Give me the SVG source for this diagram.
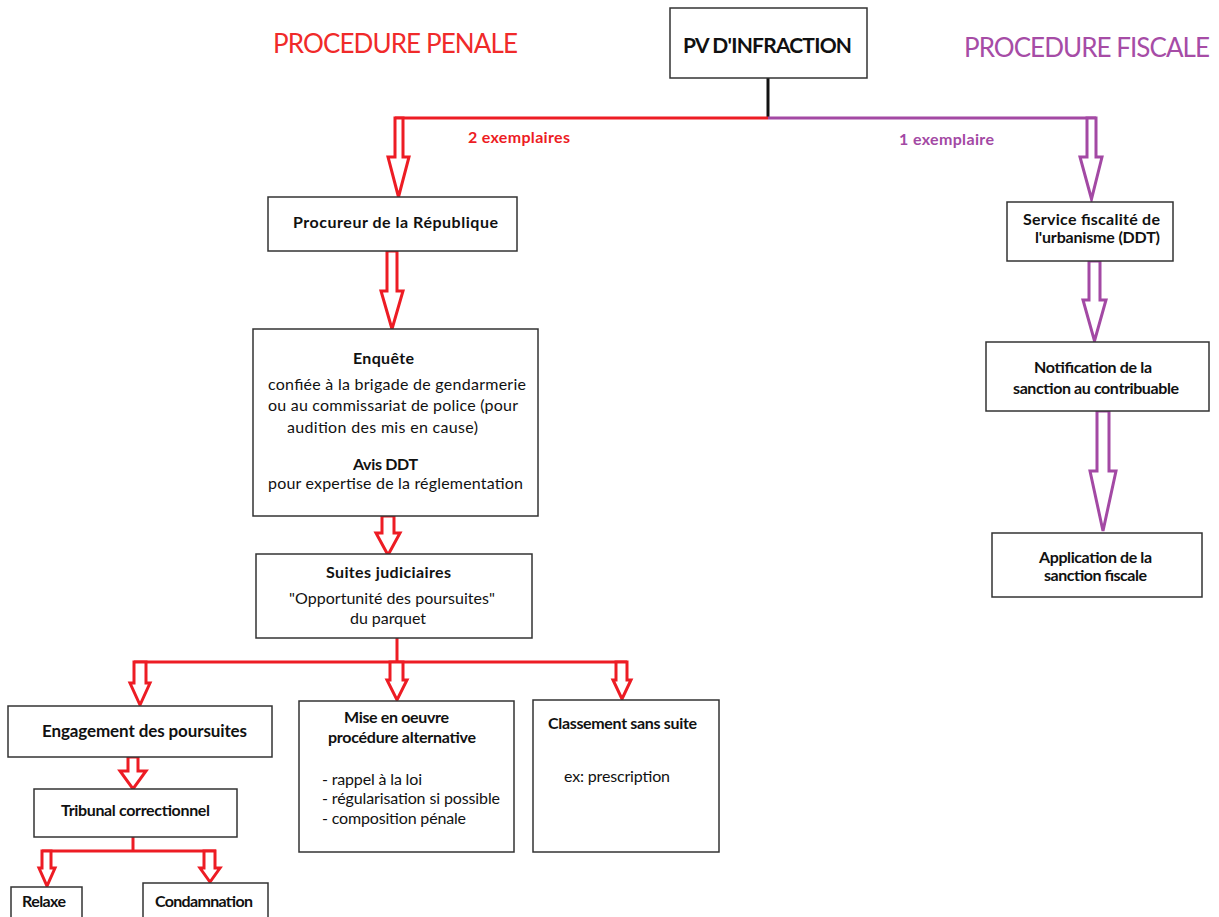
<svg xmlns="http://www.w3.org/2000/svg" width="1219" height="917" viewBox="0 0 1219 917">
<style>
  .box { fill: #ffffff; stroke: #333333; stroke-width: 1.5; }
  .t { font-family: Lato, "Open Sans", sans-serif; fill: #111111; font-size: 16px; }
  .b { font-weight: bold; }
  .red { stroke: #ed1c24; stroke-width: 3; fill: none; }
  .pur { stroke: #a349a4; stroke-width: 3; fill: none; }
  .ared { stroke: #ed1c24; stroke-width: 3; fill: #ffffff; stroke-linejoin: miter; }
  .apur { stroke: #a349a4; stroke-width: 3; fill: #ffffff; stroke-linejoin: miter; }
</style>
<rect width="1219" height="917" fill="#ffffff"/>

<g id="titles">
  <text class="t" x="273" y="53" style="font-size:26px;fill:#f02a2a" textLength="245">PROCEDURE PENALE</text>
  <text class="t" x="964" y="57" style="font-size:26px;fill:#a64ca6" textLength="246">PROCEDURE FISCALE</text>
</g>

<g id="connectors">
  <line x1="768" y1="78" x2="768" y2="118" stroke="#111" stroke-width="3"/>
  <line class="red" x1="395" y1="118" x2="768" y2="118"/>
  <line class="pur" x1="768" y1="118" x2="1096" y2="118"/>
  <text class="t b" x="468" y="143" style="fill:#ed1c24" textLength="102">2 exemplaires</text>
  <text class="t b" x="899" y="145" style="fill:#a349a4" textLength="95">1 exemplaire</text>
  <!-- PV -> Procureur -->
  <path class="ared" d="M395,118 L395,157 L388,157 L398.5,197 L409,157 L403,157 L403,118 Z"/>
  <!-- PV -> Service -->
  <path class="apur" d="M1087,118 L1087,157 L1080,157 L1091.5,199 L1102,157 L1096,157 L1096,118 Z"/>
  <!-- Procureur -> Enquete -->
  <path class="ared" d="M387,251 L387,291 L381,291 L392,329 L403,291 L397,291 L397,251 Z"/>
  <!-- Enquete -> Suites -->
  <path class="ared" d="M382,516 L382,533 L376,533 L388,555 L400,533 L394,533 L394,516 Z"/>
  <!-- Suites branching -->
  <line class="red" x1="397" y1="638" x2="397" y2="662"/>
  <line class="red" x1="134" y1="662" x2="627" y2="662"/>
  <path class="ared" d="M134,662 L134,683 L130,683 L140,705 L150,683 L146,683 L146,662 Z"/>
  <path class="ared" d="M390,662 L390,680 L387,680 L397,700 L407,680 L403,680 L403,662 Z"/>
  <path class="ared" d="M616,662 L616,680 L613,680 L622,699 L631,680 L627,680 L627,662 Z"/>
  <!-- Engagement -> Tribunal -->
  <path class="ared" d="M128,757 L128,771 L120,771 L133,789 L146,771 L138,771 L138,757 Z"/>
  <!-- Tribunal branching -->
  <line class="red" x1="133" y1="837" x2="133" y2="851"/>
  <line class="red" x1="42" y1="851" x2="216" y2="851"/>
  <path class="ared" d="M42,851 L42,868 L39,868 L47,886 L55,868 L51,868 L51,851 Z"/>
  <path class="ared" d="M204,851 L204,868 L200,868 L210,882 L220,868 L215,868 L215,851 Z"/>
  <!-- Service -> Notification -->
  <path class="apur" d="M1089,261 L1089,300 L1083,300 L1094.5,341 L1106,300 L1100,300 L1100,261 Z"/>
  <!-- Notification -> Application -->
  <path class="apur" d="M1097,411 L1097,471 L1090,471 L1103,531 L1116,471 L1109,471 L1109,411 Z"/>
</g>

<g id="pv">
  <rect class="box" x="670" y="8" width="197" height="70"/>
  <text class="t b" x="683" y="53" style="font-size:21px" textLength="169">PV D'INFRACTION</text>
</g>

<g id="procureur">
  <rect class="box" x="268" y="197" width="249" height="54"/>
  <text class="t b" x="293" y="228" textLength="205">Procureur de la République</text>
</g>

<g id="enquete">
  <rect class="box" x="253" y="329" width="285" height="187"/>
  <text class="t b" x="353" y="364" textLength="61">Enquête</text>
  <text class="t" x="268" y="390" textLength="258">confiée à la brigade de gendarmerie</text>
  <text class="t" x="268" y="411" textLength="250">ou au commissariat de police (pour</text>
  <text class="t" x="287" y="433" textLength="191">audition des mis en cause)</text>
  <text class="t b" x="353" y="470" textLength="65">Avis DDT</text>
  <text class="t" x="268" y="489" textLength="255">pour expertise de la réglementation</text>
</g>

<g id="suites">
  <rect class="box" x="256" y="554" width="276" height="84"/>
  <text class="t b" x="326" y="578" textLength="125">Suites judiciaires</text>
  <text class="t" x="289" y="604" textLength="206">"Opportunité des poursuites"</text>
  <text class="t" x="350" y="624" textLength="76">du parquet</text>
</g>

<g id="engagement">
  <rect class="box" x="8" y="706" width="264" height="51"/>
  <text class="t b" x="42" y="737" style="font-size:17px" textLength="205">Engagement des poursuites</text>
</g>

<g id="tribunal">
  <rect class="box" x="34" y="789" width="203" height="48"/>
  <text class="t b" x="61" y="816" textLength="149">Tribunal correctionnel</text>
</g>

<g id="relaxe">
  <rect class="box" x="11" y="887" width="71" height="40"/>
  <text class="t b" x="22" y="907" textLength="44">Relaxe</text>
</g>

<g id="condamnation">
  <rect class="box" x="143" y="883" width="125" height="44"/>
  <text class="t b" x="155" y="907" textLength="98">Condamnation</text>
</g>

<g id="alternative">
  <rect class="box" x="299" y="701" width="215" height="151"/>
  <text class="t b" x="344" y="723" textLength="105">Mise en oeuvre</text>
  <text class="t b" x="328" y="743" textLength="148">procédure alternative</text>
  <text class="t" x="322" y="785" textLength="100">- rappel à la loi</text>
  <text class="t" x="322" y="804" textLength="178">- régularisation si possible</text>
  <text class="t" x="322" y="824" textLength="144">- composition pénale</text>
</g>

<g id="classement">
  <rect class="box" x="533" y="700" width="186" height="152"/>
  <text class="t b" x="548" y="729" textLength="149">Classement sans suite</text>
  <text class="t" x="564" y="782" textLength="106">ex: prescription</text>
</g>

<g id="service">
  <rect class="box" x="1007" y="202" width="166" height="59"/>
  <text class="t b" x="1023" y="225" textLength="137">Service fiscalité de</text>
  <text class="t b" x="1035" y="243" textLength="125">l'urbanisme (DDT)</text>
</g>

<g id="notification">
  <rect class="box" x="986" y="342" width="223" height="69"/>
  <text class="t b" x="1034" y="373" textLength="118">Notification de la</text>
  <text class="t b" x="1013" y="394" textLength="166">sanction au contribuable</text>
</g>

<g id="application">
  <rect class="box" x="992" y="533" width="210" height="64"/>
  <text class="t b" x="1039" y="563" textLength="113">Application de la</text>
  <text class="t b" x="1044" y="581" textLength="103">sanction fiscale</text>
</g>
</svg>
